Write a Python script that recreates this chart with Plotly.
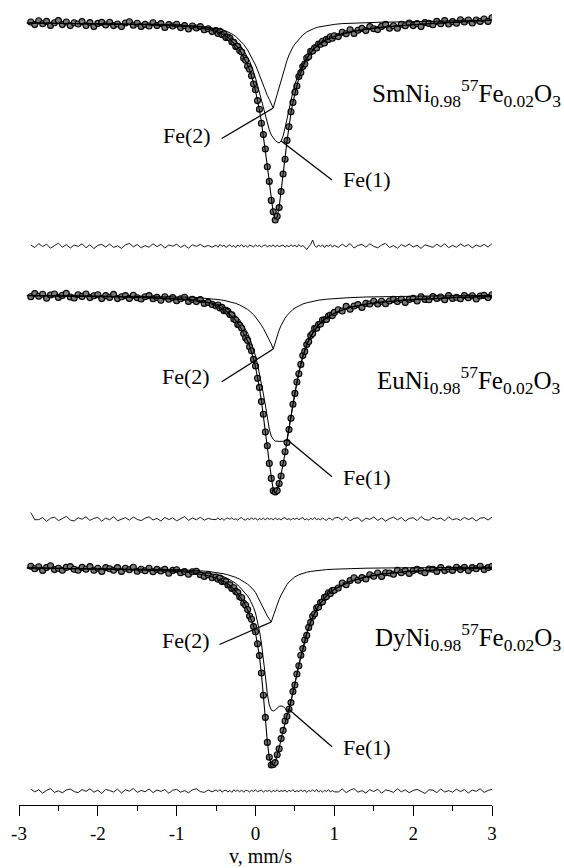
import plotly.graph_objects as go

# ---------------- data (velocity in mm/s, relative transmission in %) ----------------
V = [-2.85, -2.80, -2.75, -2.70, -2.65, -2.60, -2.55, -2.50, -2.45, -2.40,
     -2.35, -2.30, -2.25, -2.20, -2.15, -2.10, -2.05, -2.00, -1.95, -1.90,
     -1.85, -1.80, -1.75, -1.70, -1.65, -1.60, -1.55, -1.50, -1.45, -1.40,
     -1.35, -1.30, -1.25, -1.20, -1.15, -1.10, -1.05, -1.00, -0.95, -0.90,
     -0.85, -0.80, -0.75, -0.70, -0.65, -0.60, -0.55,
     -0.500, -0.475, -0.450, -0.425, -0.400, -0.375, -0.350, -0.325, -0.300, -0.275,
     -0.250, -0.225, -0.200, -0.175, -0.150, -0.125, -0.100, -0.075, -0.050, -0.025,
     0.000, 0.025, 0.050, 0.075, 0.100, 0.125, 0.150, 0.175, 0.200, 0.225,
     0.250, 0.275, 0.300, 0.325, 0.350, 0.375, 0.400, 0.425, 0.450, 0.475,
     0.500, 0.525, 0.550, 0.575, 0.600, 0.625, 0.650, 0.675, 0.700, 0.725,
     0.750, 0.775, 0.800, 0.825, 0.850, 0.875, 0.900, 0.925, 0.950, 0.975, 1.000,
     1.05, 1.10, 1.15, 1.20, 1.25, 1.30, 1.35, 1.40, 1.45, 1.50,
     1.55, 1.60, 1.65, 1.70, 1.75, 1.80, 1.85, 1.90, 1.95, 2.00,
     2.05, 2.10, 2.15, 2.20, 2.25, 2.30, 2.35, 2.40, 2.45, 2.50,
     2.55, 2.60, 2.65, 2.70, 2.75, 2.80, 2.85, 2.90, 2.95, 3.00]

VF = [-2.9, -2.6, -2.3, -2.0, -1.7, -1.4, -1.2, -1.0, -0.9, -0.8,
      -0.7, -0.6, -0.5, -0.45, -0.4, -0.35, -0.3, -0.25, -0.2, -0.15,
      -0.1, -0.075, -0.05, -0.025, 0.0, 0.025, 0.05, 0.075, 0.1, 0.125,
      0.15, 0.175, 0.2, 0.225, 0.25, 0.275, 0.3, 0.325, 0.35, 0.375,
      0.4, 0.425, 0.45, 0.475, 0.5, 0.55, 0.6, 0.65, 0.7, 0.75,
      0.8, 0.9, 1.0, 1.1, 1.2, 1.4, 1.6, 1.9, 2.2, 2.5, 2.8, 3.0]

# --- SmNi0.98(57)Fe0.02O3 ---
SM_DATA = [99.90, 99.77, 99.96, 99.81, 99.93, 99.73, 99.86, 99.97, 99.77, 99.90,
           99.72, 99.86, 99.80, 99.92, 99.72, 99.87, 99.67, 99.83, 99.88, 99.75,
           99.89, 99.72, 99.80, 99.67, 99.85, 99.91, 99.74, 99.84, 99.68, 99.78,
           99.70, 99.86, 99.72, 99.82, 99.63, 99.77, 99.70, 99.79, 99.62, 99.72,
           99.55, 99.70, 99.60, 99.67, 99.51, 99.56, 99.42,
           99.47, 99.33, 99.43, 99.27, 99.30, 99.12, 99.15, 99.10, 98.91, 98.88,
           98.67, 98.68, 98.48, 98.40, 98.10, 97.99, 97.69, 97.54, 97.21, 96.80,
           96.51, 95.97, 95.54, 94.84, 94.27, 93.55, 92.66, 91.93, 90.98, 90.41,
           90.00, 90.19, 90.62, 91.42, 92.30, 93.04, 93.98, 94.66, 95.41, 95.88,
           96.39, 96.70, 97.17, 97.37, 97.67, 97.80, 98.10, 98.17, 98.43, 98.45,
           98.61, 98.60, 98.80, 98.79, 98.94, 98.85, 99.04, 99.03, 99.16, 99.09, 99.21,
           99.17, 99.39, 99.31, 99.51, 99.33, 99.49, 99.58, 99.47, 99.67, 99.56,
           99.52, 99.68, 99.78, 99.59, 99.71, 99.59, 99.79, 99.71, 99.85, 99.72,
           99.82, 99.67, 99.87, 99.83, 99.76, 99.93, 99.81, 99.97, 99.80, 99.92,
           99.84, 100.01, 99.90, 100.00, 99.85, 100.00, 99.93, 100.05, 99.93, 100.11]
SM_RES = [0.05, -0.08, 0.12, -0.03, 0.09, -0.11, 0.02, 0.14, -0.06, 0.07,
          -0.10, 0.04, -0.02, 0.11, -0.09, 0.06, -0.13, 0.03, 0.08, -0.05,
          0.10, -0.07, 0.01, -0.12, 0.06, 0.13, -0.04, 0.07, -0.09, 0.02,
          -0.06, 0.11, -0.03, 0.08, -0.10, 0.05, -0.01, 0.09, -0.07, 0.04,
          -0.11, 0.06, -0.02, 0.08, -0.05, 0.03, -0.06,
          0.04, -0.06, 0.08, -0.03, 0.05, -0.07, 0.02, 0.06, -0.04, 0.03,
          -0.08, 0.05, -0.02, 0.07, -0.05, 0.03, -0.06, 0.04, 0.01, -0.05,
          0.06, -0.03, 0.04, -0.06, 0.02, 0.05, -0.04, 0.03, -0.02, 0.06,
          -0.05, 0.04, -0.03, 0.02, 0.05, -0.06, 0.03, -0.04, 0.06, -0.02,
          0.04, -0.05, 0.07, -0.03, 0.02, -0.06, -0.18, -0.04, 0.08, 0.30,
          0.03, -0.07, 0.05, -0.03, 0.06, -0.08, 0.04, -0.02, 0.07, -0.05, 0.03,
          -0.07, 0.09, -0.04, 0.12, -0.10, 0.03, 0.08, -0.06, 0.11, -0.02,
          -0.09, 0.05, 0.13, -0.08, 0.02, -0.11, 0.07, -0.03, 0.10, -0.05,
          0.04, -0.12, 0.06, 0.01, -0.07, 0.09, -0.04, 0.11, -0.08, 0.03,
          -0.06, 0.10, -0.02, 0.07, -0.09, 0.05, -0.03, 0.08, -0.05, 0.12]
SM_FIT = [99.85, 99.84, 99.82, 99.80, 99.79, 99.76, 99.74, 99.70, 99.68, 99.64,
          99.59, 99.53, 99.43, 99.35, 99.25, 99.13, 98.95, 98.75, 98.50, 98.15,
          97.75, 97.50, 97.20, 96.85, 96.45, 96.00, 95.50, 94.90, 94.25, 93.50,
          92.70, 91.90, 91.00, 90.35, 90.05, 90.15, 90.65, 91.40, 92.25, 93.10,
          93.95, 94.70, 95.35, 95.90, 96.35, 97.10, 97.65, 98.05, 98.35, 98.58,
          98.75, 99.00, 99.18, 99.30, 99.39, 99.53, 99.63, 99.74, 99.82, 99.89, 99.95, 99.99]
SM_FE1 = [99.85, 99.84, 99.83, 99.82, 99.81, 99.79, 99.77, 99.75, 99.73, 99.70,
          99.66, 99.60, 99.50, 99.44, 99.35, 99.25, 99.11, 98.95, 98.75, 98.48,
          98.15, 97.95, 97.70, 97.43, 97.10, 96.75, 96.35, 95.95, 95.55, 95.15,
          94.80, 94.50, 94.25, 94.08, 93.98, 93.90, 93.85, 93.95, 94.20, 94.60,
          95.10, 95.58, 96.03, 96.43, 96.78, 97.35, 97.80, 98.13, 98.40, 98.60,
          98.78, 99.03, 99.20, 99.33, 99.41, 99.55, 99.64, 99.74, 99.82, 99.89, 99.95, 99.99]
SM_FE2 = [99.85, 99.84, 99.84, 99.83, 99.82, 99.80, 99.78, 99.75, 99.73, 99.70,
          99.67, 99.63, 99.58, 99.54, 99.49, 99.41, 99.31, 99.18, 99.00, 98.78,
          98.50, 98.33, 98.15, 97.95, 97.75, 97.50, 97.23, 96.95, 96.70, 96.45,
          96.23, 96.03, 95.80, 95.60, 95.95, 96.30, 96.60, 96.95, 97.30, 97.65,
          97.98, 98.25, 98.48, 98.65, 98.80, 99.05, 99.25, 99.40, 99.51, 99.59,
          99.65, 99.73, 99.78, 99.82, 99.84, 99.87, 99.89, 99.91, 99.93, 99.95, 99.97, 99.99]

# --- EuNi0.98(57)Fe0.02O3 ---
EU_DATA = [99.81, 99.97, 99.84, 99.94, 99.74, 99.90, 99.95, 99.78, 99.88, 99.98,
           99.80, 99.75, 99.91, 99.83, 99.95, 99.77, 99.86, 99.91, 99.72, 99.87,
           99.78, 99.93, 99.72, 99.81, 99.87, 99.73, 99.89, 99.76, 99.70, 99.81,
           99.87, 99.71, 99.78, 99.64, 99.81, 99.69, 99.77, 99.61, 99.71, 99.79,
           99.58, 99.68, 99.57, 99.67, 99.48, 99.53, 99.43,
           99.35, 99.40, 99.25, 99.28, 99.11, 99.14, 99.08, 98.92, 98.91, 98.70,
           98.65, 98.43, 98.39, 98.25, 97.97, 97.75, 97.63, 97.31, 97.11, 96.68,
           96.35, 95.74, 95.28, 94.57, 93.94, 93.05, 92.36, 91.48, 90.73, 90.11,
           90.05, 90.12, 90.47, 90.85, 91.49, 92.06, 92.52, 93.17, 93.74, 94.44,
           94.98, 95.55, 95.96, 96.43, 96.87, 97.08, 97.42, 97.57, 97.87, 97.97,
           98.23, 98.24, 98.42, 98.45, 98.65, 98.66, 98.68, 98.85, 98.90, 98.87, 99.03,
           99.16, 99.10, 99.33, 99.19, 99.35, 99.42, 99.28, 99.48, 99.45, 99.59,
           99.45, 99.59, 99.46, 99.60, 99.68, 99.57, 99.69, 99.53, 99.68, 99.73,
           99.60, 99.81, 99.68, 99.66, 99.82, 99.73, 99.80, 99.66, 99.87, 99.73,
           99.79, 99.71, 99.87, 99.76, 99.86, 99.70, 99.85, 99.88, 99.77, 99.91]
EU_RES = [0.32, -0.04, -0.03, 0.07, -0.12, 0.04, 0.09, -0.08, 0.02, 0.13,
          -0.05, -0.10, 0.06, -0.01, 0.11, -0.07, 0.03, 0.08, -0.11, 0.05,
          -0.04, 0.12, -0.09, 0.01, 0.07, -0.06, 0.10, -0.02, -0.08, 0.04,
          0.11, -0.05, 0.03, -0.10, 0.08, -0.03, 0.06, -0.09, 0.02, 0.12,
          -0.07, 0.05, -0.04, 0.09, -0.06, 0.03, -0.02,
          -0.03, 0.06, -0.05, 0.04, -0.07, 0.03, 0.05, -0.02, 0.06, -0.04,
          0.02, -0.06, 0.04, 0.07, -0.03, -0.05, 0.03, -0.04, 0.06, -0.02,
          0.05, -0.06, 0.03, -0.03, 0.04, -0.05, 0.06, -0.02, 0.03, -0.04,
          0.05, -0.03, 0.02, -0.05, 0.04, 0.06, -0.03, 0.02, -0.06, 0.04,
          -0.02, 0.05, -0.04, 0.03, 0.07, -0.05, 0.02, -0.06, 0.04, -0.03,
          0.08, -0.04, 0.02, -0.05, 0.06, -0.02, -0.07, 0.04, 0.03, -0.06, 0.05,
          0.08, -0.05, 0.11, -0.09, 0.03, 0.06, -0.12, 0.04, -0.02, 0.10,
          -0.07, 0.05, -0.10, 0.02, 0.09, -0.04, 0.07, -0.11, 0.03, 0.06,
          -0.08, 0.12, -0.03, -0.06, 0.09, -0.01, 0.05, -0.09, 0.11, -0.04,
          0.02, -0.07, 0.08, -0.03, 0.06, -0.10, 0.04, 0.07, -0.05, 0.09]
EU_FIT = [99.87, 99.86, 99.85, 99.83, 99.80, 99.77, 99.74, 99.70, 99.67, 99.63,
          99.58, 99.50, 99.38, 99.30, 99.18, 99.03, 98.85, 98.63, 98.35, 98.00,
          97.60, 97.35, 97.05, 96.70, 96.30, 95.80, 95.25, 94.60, 93.90, 93.10,
          92.30, 91.50, 90.70, 90.15, 90.00, 90.15, 90.45, 90.90, 91.45, 92.00,
          92.55, 93.15, 93.80, 94.40, 95.00, 96.00, 96.80, 97.40, 97.83, 98.15,
          98.40, 98.75, 98.98, 99.15, 99.28, 99.44, 99.54, 99.64, 99.72, 99.77, 99.80, 99.82]
EU_FE1 = [99.88, 99.87, 99.85, 99.84, 99.82, 99.79, 99.76, 99.73, 99.70, 99.67,
          99.62, 99.55, 99.45, 99.39, 99.30, 99.19, 99.05, 98.88, 98.65, 98.35,
          98.00, 97.78, 97.50, 97.20, 96.85, 96.45, 96.00, 95.50, 94.95, 94.40,
          93.75, 93.20, 92.85, 92.68, 92.60, 92.58, 92.58, 92.58, 92.58, 92.60,
          92.68, 93.20, 93.85, 94.45, 95.05, 96.05, 96.85, 97.45, 97.85, 98.18,
          98.43, 98.78, 99.00, 99.15, 99.28, 99.45, 99.55, 99.65, 99.72, 99.77, 99.81, 99.83]
EU_FE2 = [99.88, 99.87, 99.87, 99.86, 99.85, 99.84, 99.83, 99.81, 99.80, 99.79,
          99.76, 99.73, 99.69, 99.66, 99.63, 99.59, 99.54, 99.48, 99.40, 99.30,
          99.18, 99.10, 99.02, 98.92, 98.80, 98.68, 98.54, 98.39, 98.23, 98.05,
          97.88, 97.68, 97.45, 97.20, 97.55, 97.88, 98.15, 98.38, 98.58, 98.74,
          98.88, 98.99, 99.09, 99.18, 99.25, 99.36, 99.45, 99.51, 99.56, 99.60,
          99.64, 99.69, 99.72, 99.75, 99.77, 99.80, 99.82, 99.84, 99.85, 99.86, 99.87, 99.88]

# --- DyNi0.98(57)Fe0.02O3 ---
DY_DATA = [99.99, 99.86, 99.96, 99.78, 99.92, 100.01, 99.82, 99.89, 99.79, 99.93,
           99.97, 99.84, 99.79, 99.93, 99.84, 99.97, 99.79, 99.89, 99.73, 99.92,
           99.86, 99.79, 99.92, 99.73, 99.89, 99.81, 99.94, 99.74, 99.84, 99.76,
           99.89, 99.71, 99.83, 99.75, 99.83, 99.64, 99.78, 99.81, 99.66, 99.72,
           99.59, 99.71, 99.73, 99.56, 99.48, 99.56, 99.41,
           99.45, 99.34, 99.40, 99.22, 99.25, 99.21, 99.05, 99.06, 98.88, 98.91,
           98.73, 98.67, 98.46, 98.41, 98.14, 98.04, 97.82, 97.50, 97.34, 96.97,
           96.71, 96.11, 95.52, 94.65, 93.54, 92.43, 91.18, 90.44, 90.05, 90.08,
           90.17, 90.56, 90.86, 91.37, 91.78, 92.25, 92.49, 92.84, 93.17, 93.72,
           94.05, 94.60, 95.01, 95.54, 95.87, 96.30, 96.53, 96.93, 97.18, 97.49,
           97.61, 97.91, 97.95, 98.17, 98.21, 98.43, 98.47, 98.66, 98.62, 98.77, 98.79,
           98.90, 99.15, 99.06, 99.27, 99.41, 99.29, 99.42, 99.35, 99.56, 99.49,
           99.65, 99.48, 99.66, 99.65, 99.59, 99.79, 99.66, 99.77, 99.63, 99.77,
           99.84, 99.75, 99.66, 99.85, 99.84, 99.73, 99.92, 99.77, 99.85, 99.78,
           99.94, 99.82, 99.93, 99.77, 99.92, 99.86, 99.99, 99.82, 99.92, 99.98]
DY_RES = [0.09, -0.04, 0.06, -0.11, 0.03, 0.12, -0.07, 0.01, -0.09, 0.05,
          0.10, -0.03, -0.08, 0.07, -0.02, 0.11, -0.06, 0.04, -0.12, 0.08,
          0.02, -0.05, 0.09, -0.10, 0.06, -0.01, 0.13, -0.07, 0.03, -0.04,
          0.10, -0.08, 0.05, -0.02, 0.07, -0.11, 0.04, 0.08, -0.06, 0.02,
          -0.09, 0.06, 0.11, -0.03, -0.07, 0.05, -0.04,
          0.05, -0.03, 0.07, -0.06, 0.02, 0.04, -0.05, 0.03, -0.07, 0.06,
          -0.02, 0.04, -0.04, 0.05, -0.06, 0.03, 0.02, -0.05, 0.04, -0.03,
          0.06, -0.04, 0.02, 0.05, -0.06, 0.03, -0.02, 0.04, -0.05, 0.03,
          -0.03, 0.06, -0.04, 0.02, -0.02, 0.05, -0.06, 0.04, -0.03, 0.07,
          -0.05, 0.02, -0.04, 0.06, -0.03, 0.05, -0.07, 0.03, -0.02, 0.06,
          -0.04, 0.08, -0.05, 0.03, -0.06, 0.04, -0.03, 0.07, -0.05, 0.02, -0.04,
          -0.05, 0.10, -0.08, 0.04, 0.12, -0.06, 0.02, -0.10, 0.07, -0.03,
          0.09, -0.11, 0.05, 0.01, -0.07, 0.11, -0.04, 0.06, -0.09, 0.03,
          0.08, -0.02, -0.12, 0.06, 0.04, -0.08, 0.10, -0.05, 0.02, -0.06,
          0.09, -0.03, 0.07, -0.10, 0.05, -0.02, 0.11, -0.07, 0.03, 0.08]
DY_FIT = [99.90, 99.89, 99.87, 99.85, 99.83, 99.80, 99.77, 99.73, 99.70, 99.65,
          99.59, 99.51, 99.40, 99.33, 99.23, 99.10, 98.95, 98.75, 98.50, 98.20,
          97.80, 97.55, 97.30, 97.00, 96.65, 96.15, 95.50, 94.60, 93.60, 92.40,
          91.20, 90.40, 90.10, 90.05, 90.20, 90.50, 90.90, 91.35, 91.80, 92.20,
          92.55, 92.80, 93.20, 93.65, 94.10, 95.05, 95.90, 96.60, 97.20, 97.65,
          98.00, 98.50, 98.83, 99.05, 99.23, 99.45, 99.59, 99.71, 99.79, 99.84, 99.88, 99.90]
DY_FE1 = [99.91, 99.89, 99.88, 99.86, 99.85, 99.83, 99.80, 99.77, 99.75, 99.72,
          99.69, 99.64, 99.57, 99.52, 99.46, 99.37, 99.26, 99.13, 98.95, 98.75,
          98.50, 98.35, 98.15, 97.93, 97.65, 97.25, 96.75, 96.15, 95.40, 94.50,
          93.60, 93.05, 92.80, 92.75, 92.80, 92.90, 92.98, 93.00, 92.98, 92.88,
          92.78, 92.83, 93.23, 93.68, 94.13, 95.08, 95.93, 96.63, 97.23, 97.67,
          98.02, 98.52, 98.84, 99.06, 99.24, 99.46, 99.60, 99.72, 99.79, 99.85, 99.89, 99.91]
DY_FE2 = [99.90, 99.89, 99.89, 99.88, 99.87, 99.86, 99.84, 99.82, 99.80, 99.79,
          99.76, 99.73, 99.68, 99.65, 99.61, 99.56, 99.50, 99.43, 99.34, 99.23,
          99.09, 99.01, 98.92, 98.80, 98.68, 98.47, 98.28, 98.10, 97.90, 97.70,
          97.50, 97.35, 97.20, 97.50, 97.80, 98.08, 98.33, 98.55, 98.75, 98.93,
          99.08, 99.20, 99.30, 99.39, 99.46, 99.56, 99.64, 99.69, 99.73, 99.76,
          99.78, 99.82, 99.84, 99.86, 99.87, 99.89, 99.90, 99.91, 99.92, 99.93, 99.94, 99.94]

SAMPLE_LABELS = ["SmNi<sub>0.98</sub><sup>57</sup>Fe<sub>0.02</sub>O<sub>3</sub>",
                 "EuNi<sub>0.98</sub><sup>57</sup>Fe<sub>0.02</sub>O<sub>3</sub>",
                 "DyNi<sub>0.98</sub><sup>57</sup>Fe<sub>0.02</sub>O<sub>3</sub>"]
COMPONENT_LABELS = ["Fe(1)", "Fe(2)"]
TICK_VALS = [-3, -2, -1, 0, 1, 2, 3]
TICK_TEXT = ["-3", "-2", "-1", "0", "1", "2", "3"]
MINOR_VALS = [-2.5, -1.5, -0.5, 0.5, 1.5, 2.5]
X_TITLE = "v, mm/s"

# ---------------- layout geometry (pixels) ----------------
W, H = 564, 868
ML, MR, MT, MB = 19, 72, 0, 63
PW = W - ML - MR
PH = H - MT - MB
PX_PER_PCT = 20.0
FONT = "Liberation Serif"


def px_to_v(px):
    return -3 + 6 * (px - ML) / PW


def paper_x(px):
    return (px - ML) / PW


def paper_y(py):
    return min(1.0, max(0.0, 1 - (py - MT) / PH))


panels = [
    dict(data=SM_DATA, res=SM_RES, fit=SM_FIT, fe1=SM_FE1, fe2=SM_FE2, label=SAMPLE_LABELS[0],
         yref=20, top=0, bot=238, res_y=246,
         fe2_text=(213, 135), fe2_start=(221.7, 138.5), fe2_idx=33,
         fe1_idx=37, fe1_end=(332, 180), fe1_text=(341, 180), sample=(563, 93)),
    dict(data=EU_DATA, res=EU_RES, fit=EU_FIT, fe1=EU_FE1, fe2=EU_FE2, label=SAMPLE_LABELS[1],
         yref=293, top=272, bot=505, res_y=519,
         fe2_text=(212, 377), fe2_start=(221.7, 381.7), fe2_idx=33,
         fe1_idx=40, fe1_end=(332, 476.7), fe1_text=(341, 477), sample=(563, 380)),
    dict(data=DY_DATA, res=DY_RES, fit=DY_FIT, fe1=DY_FE1, fe2=DY_FE2, label=SAMPLE_LABELS[2],
         yref=566, top=546, bot=778, res_y=791,
         fe2_text=(212, 640), fe2_start=(219.5, 644.5), fe2_idx=32,
         fe1_idx=41, fe1_end=(332, 746.7), fe1_text=(341, 747), sample=(563, 637)),
]

fig = go.Figure()
layout = {}
shapes = []
annotations = []

for k, p in enumerate(panels):
    ys = 2 * k + 1
    yr = 2 * k + 2
    ys_name = "y" if ys == 1 else f"y{ys}"
    yr_name = f"y{yr}"

    def T(py, p=p):
        return 100 - (py - p["yref"]) / PX_PER_PCT

    layout["yaxis" if ys == 1 else f"yaxis{ys}"] = dict(
        domain=[paper_y(p["bot"]), paper_y(p["top"])],
        range=[T(p["bot"]), T(p["top"])], visible=False, anchor="x")
    r_top = max(MT, p["res_y"] - 13)
    r_bot = min(MT + PH, p["res_y"] + 13)
    layout[f"yaxis{yr}"] = dict(
        domain=[paper_y(r_bot), paper_y(r_top)],
        range=[-(r_bot - p["res_y"]) / PX_PER_PCT, (p["res_y"] - r_top) / PX_PER_PCT],
        visible=False, anchor="x")

    n = min(len(V), len(p["data"]))
    fig.add_trace(go.Scatter(
        x=V[:n], y=p["data"][:n], mode="markers", yaxis=ys_name, xaxis="x",
        marker=dict(symbol="circle", size=6, color="#7a7a7a",
                    line=dict(color="#000000", width=1.1)),
        hoverinfo="skip"))
    for arr, wdt in ((p["fit"], 1.1), (p["fe1"], 1.0), (p["fe2"], 1.0)):
        m = min(len(VF), len(arr))
        fig.add_trace(go.Scatter(x=VF[:m], y=arr[:m], mode="lines", yaxis=ys_name, xaxis="x",
                                 line=dict(color="black", width=wdt), hoverinfo="skip"))
    nr = min(len(V), len(p["res"]))
    fig.add_trace(go.Scatter(x=V[:nr], y=p["res"][:nr], mode="lines", yaxis=yr_name, xaxis="x",
                             line=dict(color="black", width=0.9), hoverinfo="skip"))

    # pointer lines
    i2 = p["fe2_idx"]
    shapes.append(dict(type="line", xref="x", yref=ys_name,
                       x0=px_to_v(p["fe2_start"][0]), y0=T(p["fe2_start"][1]),
                       x1=VF[i2], y1=p["fe2"][i2], line=dict(color="black", width=1.3)))
    i1 = p["fe1_idx"]
    shapes.append(dict(type="line", xref="x", yref=ys_name,
                       x0=VF[i1], y0=p["fe1"][i1],
                       x1=px_to_v(p["fe1_end"][0]), y1=T(p["fe1_end"][1]),
                       line=dict(color="black", width=1.3)))

    annotations.append(dict(text=COMPONENT_LABELS[1], xref="paper", yref="paper",
                            x=paper_x(p["fe2_text"][0]), y=paper_y(p["fe2_text"][1]),
                            xanchor="right", yanchor="middle", showarrow=False,
                            font=dict(family=FONT, size=22, color="black")))
    annotations.append(dict(text=COMPONENT_LABELS[0], xref="paper", yref="paper",
                            x=paper_x(p["fe1_text"][0]), y=paper_y(p["fe1_text"][1]),
                            xanchor="left", yanchor="middle", showarrow=False,
                            font=dict(family=FONT, size=22, color="black")))
    annotations.append(dict(text=p["label"], xref="paper", yref="paper",
                            x=paper_x(p["sample"][0]), y=paper_y(p["sample"][1]),
                            xanchor="right", yanchor="middle", showarrow=False,
                            font=dict(family=FONT, size=25, color="black")))

annotations.append(dict(text=X_TITLE, xref="paper", yref="paper",
                        x=paper_x(260), y=1 - (856 - MT) / PH, xanchor="center", yanchor="middle",
                        showarrow=False, borderpad=0,
                        font=dict(family=FONT, size=20, color="black")))

layout["xaxis"] = dict(
    range=[-3, 3], tickmode="array", tickvals=TICK_VALS, ticktext=TICK_TEXT,
    ticks="outside", ticklen=10, tickwidth=1, tickcolor="black",
    showline=True, linecolor="black", linewidth=1, showgrid=False, zeroline=False,
    anchor="free", position=0, ticklabelstandoff=1,
    tickfont=dict(family=FONT, size=19, color="black"),
    minor=dict(tickmode="array", tickvals=MINOR_VALS, ticks="outside", ticklen=5,
               tickwidth=1, tickcolor="black", showgrid=False))

fig.update_layout(
    width=W, height=H, margin=dict(l=ML, r=MR, t=MT, b=MB, pad=0),
    paper_bgcolor="white", plot_bgcolor="white", showlegend=False,
    font=dict(family=FONT, color="black"),
    shapes=shapes, annotations=annotations, **layout)

fig.write_html("out.html")
